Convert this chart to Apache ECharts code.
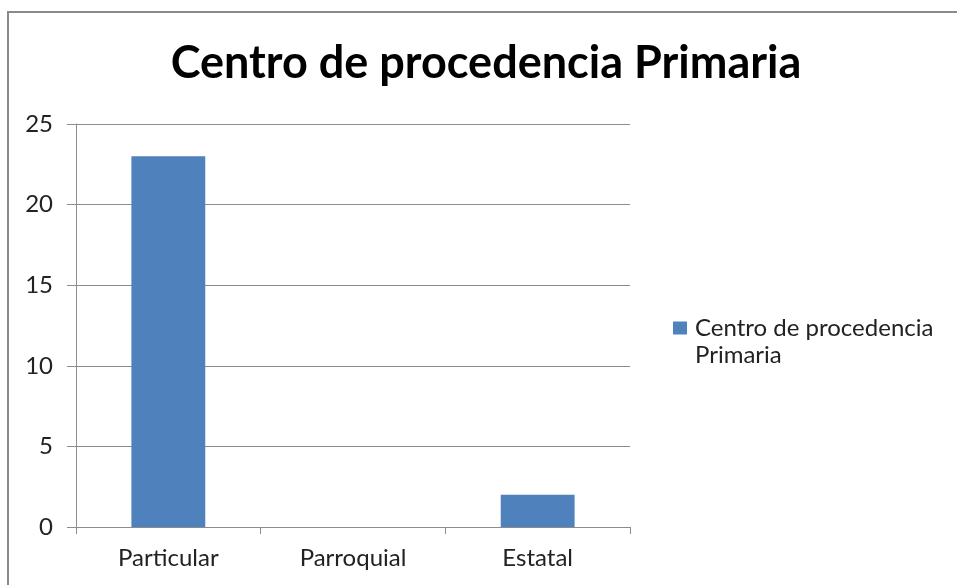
<!DOCTYPE html>
<html>
<head>
<meta charset="utf-8">
<script src="https://cdn.jsdelivr.net/npm/echarts@6/dist/echarts.min.js"></script>
<style>
  html, body { margin: 0; padding: 0; background: #fff; }
  #main { width: 957px; height: 585px; }
</style>
</head>
<body>
<div id="main"></div>
<script>
var categories = ['Particular', 'Parroquial', 'Estatal'];
var seriesName = 'Centro de procedencia Primaria';
var legendLines = ['Centro de procedencia', 'Primaria'];
var values = [23, 0, 2];

var myChart = echarts.init(document.getElementById('main'));

var option = {
    backgroundColor: '#fff',
    animation: false,
    title: {
        text: 'Centro de procedencia Primaria',
        left: 481,
        top: 36,
        textAlign: 'center',
        textStyle: {
            fontFamily: 'Lato',
            fontWeight: 'bold',
            fontSize: 45,
            color: '#000'
        }
    },
    grid: {
        left: 76,
        right: 327,
        top: 124,
        bottom: 58
    },
    legend: {
        left: 673,
        top: 314,
        padding: 0,
        orient: 'vertical',
        itemWidth: 14,
        itemHeight: 13,
        formatter: function () {
            return legendLines[0];
        },
        textStyle: {
            fontFamily: 'Lato',
            fontSize: 24,
            lineHeight: 28,
            padding: [0, 0, 0, 3],
            color: '#222'
        },
        data: [{ name: seriesName, icon: 'rect' }]
    },
    xAxis: {
        type: 'category',
        data: categories,
        axisLine: { lineStyle: { color: '#8c8c8c', width: 1 } },
        axisTick: { show: true, length: 7, lineStyle: { color: '#8c8c8c' } },
        axisLabel: {
            margin: 19,
            fontFamily: 'Lato',
            fontSize: 24,
            color: '#222'
        }
    },
    yAxis: {
        type: 'value',
        min: 0,
        max: 25,
        interval: 5,
        axisLine: { show: true, lineStyle: { color: '#8c8c8c', width: 1 } },
        axisTick: { show: true, length: 9, lineStyle: { color: '#8c8c8c' } },
        splitLine: { lineStyle: { color: '#8c8c8c', width: 1 } },
        axisLabel: {
            margin: 23,
            fontFamily: 'Lato',
            fontSize: 24,
            color: '#222'
        }
    },
    graphic: [{
        type: 'polyline',
        shape: { points: [[8, 585], [8, 12], [957, 12]] },
        style: { stroke: '#8a8a8a', lineWidth: 2, fill: null }
    }, {
        type: 'text',
        left: 695,
        top: 343,
        style: {
            text: legendLines[1],
            font: '24px Lato',
            fill: '#222'
        }
    }],
    series: [{
        name: seriesName,
        type: 'bar',
        data: values,
        barWidth: '40%',
        itemStyle: { color: '#4f81bd' }
    }]
};

myChart.setOption(option);
</script>
</body>
</html>
